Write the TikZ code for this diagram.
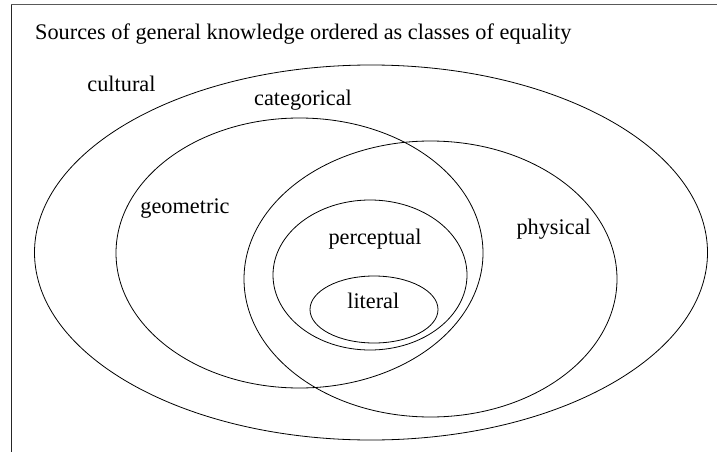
\documentclass[tikz,border=0pt]{standalone}
\usepackage{fontspec}
\setmainfont{Liberation Serif}
\usetikzlibrary{shapes.geometric}
\begin{document}
\begin{tikzpicture}[x=1pt,y=-1pt,
  setbox/.style={draw=black,line width=0.8pt,ellipse,inner sep=0pt},
  lbl/.style={anchor=base,inner sep=0pt,font=\fontsize{22.3}{26}\selectfont}]
\useasboundingbox (0,0) rectangle (717,452);
\draw[line width=1pt,black!65] (11,5) -- (717,5);
\draw[line width=1pt,black!85] (11,5) -- (11,452);
\node[lbl,anchor=base west] (title) at (35,39.5) {Sources of general knowledge ordered as classes of equality};
\node[setbox,minimum width=673pt,minimum height=375pt] (cult) at (371,252.5) {};
\node[setbox,minimum width=367pt,minimum height=270pt] (cat) at (299.5,253) {};
\node[setbox,minimum width=373pt,minimum height=276pt] (phys) at (430.5,279) {};
\node[setbox,minimum width=194pt,minimum height=150pt] (perc) at (370,275) {};
\node[setbox,minimum width=128pt,minimum height=67pt] (lit) at (374,309.5) {};
\node[lbl] (lcult) at (121.5,91.7) {cultural};
\node[lbl] (lcat) at (303,105) {categorical};
\node[lbl] (lgeo) at (185,213.3) {geometric};
\node[lbl] (lphys) at (553.7,234) {physical};
\node[lbl] (lperc) at (375,244.5) {perceptual};
\node[lbl] (llit) at (373.3,308.3) {literal};
\end{tikzpicture}
\end{document}
